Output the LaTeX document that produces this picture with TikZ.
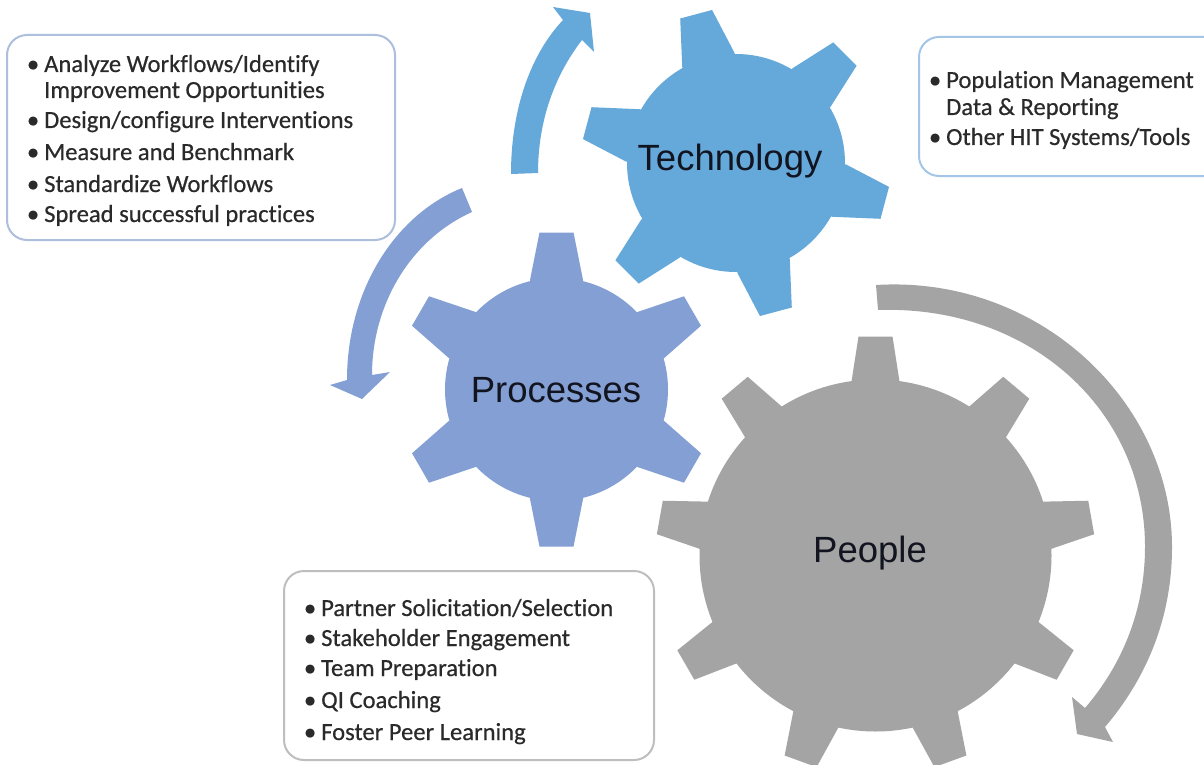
\documentclass[tikz,border=0pt]{standalone}
\usepackage{fontspec}
\setmainfont{Liberation Sans}
\newfontfamily\listfont[FakeBold=0.5,Ligatures=NoCommon]{Carlito}
\definecolor{techblue}{HTML}{65A8DA}
\definecolor{procblue}{HTML}{839FD3}
\definecolor{peoplegray}{HTML}{A4A4A4}
\definecolor{techedge}{HTML}{A3C6E6}
\definecolor{procedge}{HTML}{AEBEDD}
\definecolor{peopleedge}{HTML}{BEBEBE}
\definecolor{inktext}{HTML}{12141F}
\definecolor{listtext}{HTML}{2A2A2A}
\tikzset{
  gearlabel/.style={inner sep=0pt,anchor=base,text=inktext,font=\fontsize{36.5}{40}\selectfont},
  listbox/.style={rounded corners=20pt,line width=2pt,fill=white},
  listline/.style={inner sep=0pt,anchor=base west,text=listtext,font=\listfont\fontsize{24.6}{27}\selectfont},
}
% #1 colour, #2 cx, #3 cy, #4 body radius, #5 outer radius, #6 half width at base, #7 half width at tip, #8 tooth angles
\newcommand\drawgear[8]{%
  \foreach \ang in {#8}{%
    \fill[#1]
      ({#2+(#4-40)*cos(\ang)-#6*sin(\ang)},{#3-((#4-40)*sin(\ang)+#6*cos(\ang))}) --
      ({#2+(#4-2)*cos(\ang)-#6*sin(\ang)},{#3-((#4-2)*sin(\ang)+#6*cos(\ang))}) --
      ({#2+#5*cos(\ang)-#7*sin(\ang)},{#3-(#5*sin(\ang)+#7*cos(\ang))}) --
      ({#2+#5*cos(\ang)+#7*sin(\ang)},{#3-(#5*sin(\ang)-#7*cos(\ang))}) --
      ({#2+(#4-2)*cos(\ang)+#6*sin(\ang)},{#3-((#4-2)*sin(\ang)-#6*cos(\ang))}) --
      ({#2+(#4-40)*cos(\ang)+#6*sin(\ang)},{#3-((#4-40)*sin(\ang)-#6*cos(\ang))}) -- cycle;
  }%
  \fill[#1] (#2,#3) circle[x radius=#4pt,y radius=#4pt];
}
\newcommand\bul{\llap{\textbullet\hspace{5pt}}}
\begin{document}
\begin{tikzpicture}[x=1pt,y=-1pt]
\clip (0,0) rectangle (1204,765);
\fill[white] (0,0) rectangle (1204,765);

% list boxes
\draw[listbox,draw=procedge] (7,35) rectangle (395,240);
\draw[listbox,draw=techedge] (919,37) rectangle (1240,176);
\draw[listbox,draw=peopleedge] (284,571) rectangle (654,760);

% curved arrows
\fill[techblue] (511,174) .. controls (511,110) and (530,55) .. (563,20)
  -- (553,7) -- (590,13) -- (594,52) -- (582,40)
  .. controls (555,75) and (538,120) .. (538,173) -- cycle;
\fill[procblue] (462,188) .. controls (395,215) and (347,290) .. (347,380)
  -- (330,385) -- (362,399) -- (390,372) -- (372,375)
  .. controls (372,305) and (410,240) .. (472,212) -- cycle;
\fill[peoplegray] (876,285) .. controls (1039,275) and (1172,402) .. (1172,547)
  .. controls (1172,620) and (1145,680) .. (1105,727)
  -- (1113,742) -- (1077,734) -- (1072,697) -- (1085,708)
  .. controls (1122,665) and (1145,610) .. (1145,547)
  .. controls (1145,410) and (1030,305) .. (878,310) -- cycle;

% gears
\drawgear{techblue}{736}{163}{109}{154}{27}{16.5}{105,45,-15,-75,-135,165}
\drawgear{procblue}{556.5}{389.5}{111.5}{157}{26.5}{17}{90,30,-30,-90,-150,150}
\drawgear{peoplegray}{875.5}{555.5}{176}{219}{24}{17}{90,50,10,-30,-70,-110,-150,170,130}

\node[gearlabel] (tech) at (730,170) {Technology};
\node[gearlabel] (proc) at (556,402) {Processes};
\node[gearlabel] (peop) at (870,562) {People};

% left list
\node[listline] (a1) at (44,72) {\bul Analyze Workflows/Identify};
\node[listline] (a2) at (44,98) {Improvement Opportunities};
\node[listline] (a3) at (44,128) {\bul Design/configure Interventions};
\node[listline] (a4) at (44,160) {\bul Measure and Benchmark};
\node[listline] (a5) at (44,192) {\bul Standardize Workflows};
\node[listline] (a6) at (44,222) {\bul Spread successful practices};
% right list
\node[listline] (b1) at (946,88) {\bul Population Management};
\node[listline] (b2) at (946,115) {Data \& Reporting};
\node[listline] (b3) at (946,145) {\bul Other HIT Systems/Tools};
% bottom list
\node[listline] (c1) at (321,616) {\bul Partner Solicitation/Selection};
\node[listline] (c2) at (321,646) {\bul Stakeholder Engagement};
\node[listline] (c3) at (321,676) {\bul Team Preparation};
\node[listline] (c4) at (321,708) {\bul QI Coaching};
\node[listline] (c5) at (321,740) {\bul Foster Peer Learning};
\end{tikzpicture}
\end{document}
